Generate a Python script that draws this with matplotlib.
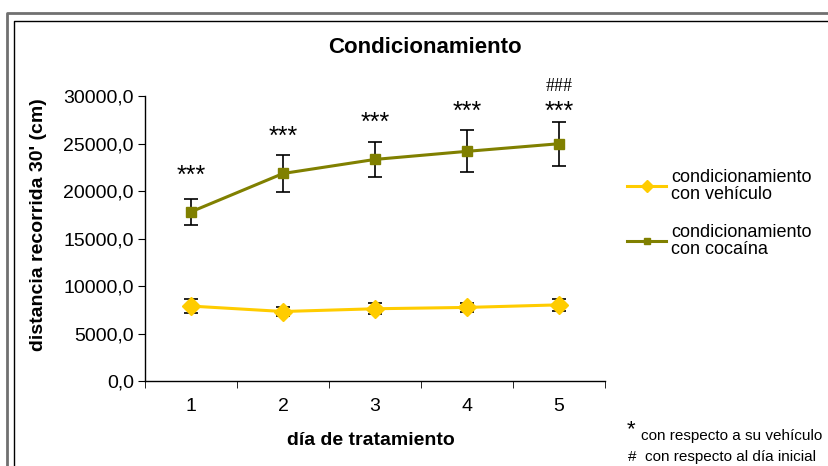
import matplotlib
matplotlib.use("Agg")
import matplotlib.pyplot as plt
from matplotlib.lines import Line2D
from matplotlib.ticker import FuncFormatter, FixedLocator

plt.rcParams["font.family"] = ["Liberation Sans", "DejaVu Sans"]

# distance travelled in 30 min (cm) per treatment day
dias = [1, 2, 3, 4, 5]
vehiculo = [7900, 7330, 7620, 7760, 8030]
vehiculo_err = [720, 500, 560, 500, 600]
cocaina = [17820, 21850, 23330, 24180, 24980]
cocaina_err = [1350, 1970, 1850, 2200, 2300]

# significance marks and the height where each is written
estrellas = ["***", "***", "***", "***", "***"]
estrellas_y = [21580, 25650, 27150, 28350, 28350]
almohadillas = ["", "", "", "", "###"]
almohadillas_y = 31000

AMARILLO = "#FFCC00"
OLIVA = "#808000"

fig = plt.figure(figsize=(8.29, 4.66), dpi=100)
ax = fig.add_axes([0.175, 0.182, 0.555, 0.612])

# error bars below, line and markers on top
for medias, errs, color, marcador, tam in ((vehiculo, vehiculo_err, AMARILLO, "D", 9),
                                          (cocaina, cocaina_err, OLIVA, "s", 7)):
    ax.errorbar(dias, medias, yerr=errs, fmt="none", ecolor="black",
                elinewidth=1.2, capsize=5, capthick=1.2, zorder=2)
    ax.plot(dias, medias, color=color, lw=2.2, marker=marcador, ms=tam,
            mec=color, zorder=3)

for d, s, y in zip(dias, estrellas, estrellas_y):
    ax.text(d, y, s, ha="center", va="center", fontsize=18)
for d, s in zip(dias, almohadillas):
    if s:
        ax.text(d, almohadillas_y, s, ha="center", va="center", fontsize=13,
                family="Liberation Serif", clip_on=False)

ax.set_xlim(0.5, 5.5)
ax.set_ylim(0, 30000)
ax.set_xticks(dias)
ax.xaxis.set_minor_locator(FixedLocator([0.5, 1.5, 2.5, 3.5, 4.5, 5.5]))
ax.tick_params(axis="x", which="major", length=0, pad=12, labelsize=14)
ax.tick_params(axis="x", which="minor", length=5, direction="out")
ax.set_yticks(range(0, 30001, 5000))
ax.yaxis.set_major_formatter(FuncFormatter(lambda v, p: f"{v:.1f}".replace(".", ",")))
ax.tick_params(axis="y", length=5, direction="out", labelsize=14, pad=3)

for side in ("top", "right"):
    ax.spines[side].set_visible(False)
for side in ("left", "bottom"):
    ax.spines[side].set_linewidth(1.0)

fig.text(0.512, 0.897, "Condicionamiento", ha="center", va="center",
         fontsize=16, fontweight="bold")
fig.text(0.046, 0.518, "distancia recorrida 30' (cm)", rotation=90,
         ha="center", va="center", fontsize=14, fontweight="bold")
fig.text(0.447, 0.054, "día de tratamiento", ha="center", va="center",
         fontsize=14, fontweight="bold")

handles = [
    Line2D([], [], color=AMARILLO, lw=2.2, marker="D", ms=6, mec=AMARILLO),
    Line2D([], [], color=OLIVA, lw=2.2, marker="s", ms=5, mec=OLIVA),
]
labels = ["condicionamiento\ncon vehículo", "condicionamiento\ncon cocaína"]
leg = ax.legend(handles, labels, loc="upper left", bbox_to_anchor=(0.756, 0.637),
                bbox_transform=fig.transFigure, frameon=False, fontsize=13,
                handlelength=2.2, handletextpad=0.25, labelspacing=1.2,
                borderaxespad=0, borderpad=0)
for t in leg.get_texts():
    t.set_linespacing(0.95)

# footnote
fig.text(0.756, 0.078, "*", fontsize=16, ha="left", va="center")
fig.text(0.773, 0.065, "con respecto a su vehículo", fontsize=11, ha="left", va="center")
fig.text(0.757, 0.019, "#", fontsize=11, ha="left", va="center")
fig.text(0.778, 0.019, "con respecto al día inicial", fontsize=11, ha="left", va="center")

# double frame around the chart area
fig.add_artist(Line2D([7 / 829, 7 / 829, 1], [0, 1 - 13 / 466, 1 - 13 / 466],
                      transform=fig.transFigure, color="#707070", lw=2))
fig.add_artist(Line2D([14 / 829, 14 / 829, 1], [0, 1 - 21 / 466, 1 - 21 / 466],
                      transform=fig.transFigure, color="black", lw=1))

fig.savefig("out.png", dpi=100)
